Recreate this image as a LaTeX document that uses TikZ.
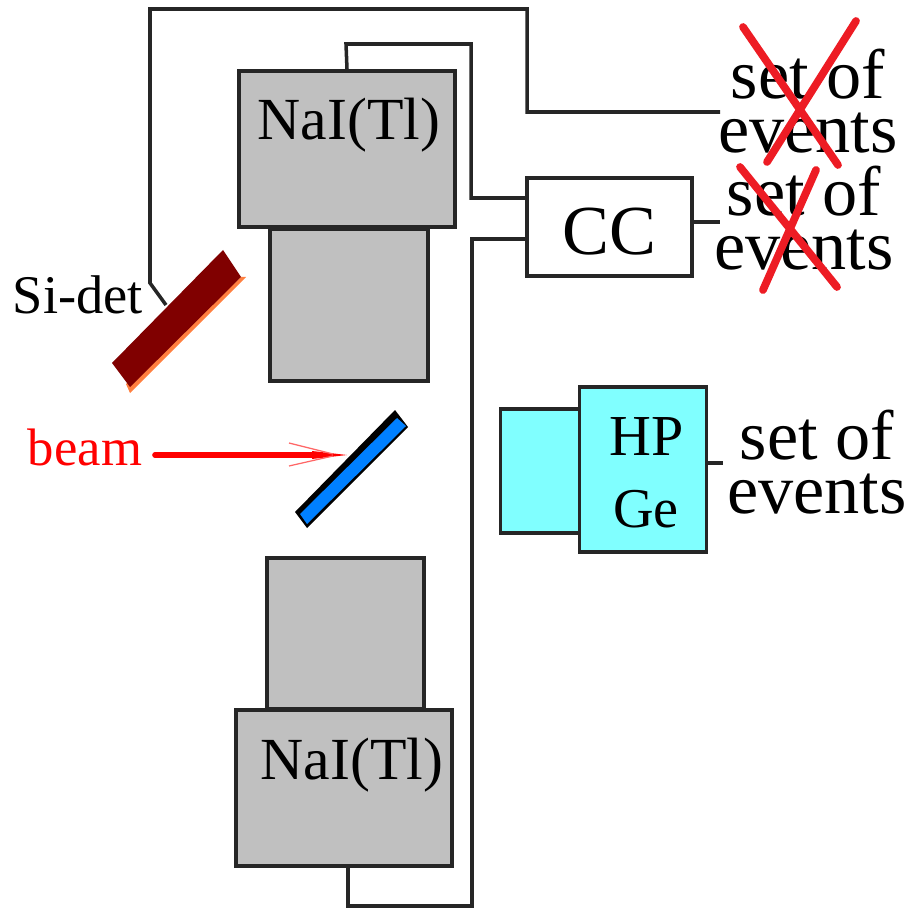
\documentclass[tikz,border=0pt]{standalone}
\usepackage{fontspec}
\setmainfont{Liberation Serif}
\definecolor{naigray}{RGB}{192, 192, 192}
\definecolor{gecyan}{RGB}{128, 255, 255}
\definecolor{sidark}{RGB}{128, 0, 0}
\definecolor{siedge}{RGB}{255, 128, 64}
\definecolor{foilblue}{RGB}{0, 128, 255}
\definecolor{crossred}{RGB}{237, 28, 36}
\definecolor{beamred}{RGB}{255, 0, 0}
\usetikzlibrary{arrows.meta, positioning, calc}

\begin{document}
\begin{tikzpicture}[x=0.02cm, y=-0.02cm,
    wire/.style={draw=black!85, line width=2pt},
    graybox/.style={draw=black!85, fill=naigray, line width=2pt, inner sep=0pt},
    cyanbox/.style={draw=black!85, fill=gecyan, line width=2pt, inner sep=0pt},
    crossline/.style={draw=crossred, line width=4.4pt, line cap=round},
    events/.style={align=center, inner sep=0pt, font=\fontsize{40}{31}\selectfont}]
  \useasboundingbox (0,0) rectangle (908,908);

  \node[graybox, minimum width=4.32cm, minimum height=3.12cm] (naitop) at (347,149) {};
  \node[graybox, minimum width=3.16cm, minimum height=3.04cm] (necktop) at (349,305) {};
  \node[graybox, minimum width=3.14cm, minimum height=3.02cm] (neckbot) at (345.5,633.5) {};
  \node[graybox, minimum width=4.32cm, minimum height=3.12cm] (naibot) at (344,788) {};
  \node[font=\fontsize{34}{34}\selectfont] (naitoplabel) at (349,125) {NaI(Tl)};
  \node[font=\fontsize{34}{34}\selectfont] (naibotlabel) at (352,765) {NaI(Tl)};

  \node[draw=black!85, fill=white, line width=2pt, inner sep=0pt,
        minimum width=3.3cm, minimum height=1.96cm] (cc) at (609.5,227) {};
  \node[font=\fontsize{40}{40}\selectfont] (cclabel) at (609,232) {CC};

  \node[cyanbox, minimum width=1.58cm, minimum height=2.48cm] (geback) at (540,471) {};
  \node[cyanbox, minimum width=2.54cm, minimum height=3.3cm] (gefront) at (643,469.5) {};
  \node[font=\fontsize{33}{33}\selectfont] (hplabel) at (647,437) {HP};
  \node[font=\fontsize{32}{32}\selectfont] (gelabel) at (646,509) {Ge};

  \coordinate (sia) at (223,250);
  \coordinate (sib) at (241,277);
  \coordinate (sic) at (130,387);
  \coordinate (sid) at (112,363);
  \fill[siedge] (sib) -- (246,277) -- (130,393) -- (126,384) -- cycle;
  \fill[sidark] (sia) -- (sib) -- (sic) -- (sid) -- cycle;
  \coordinate (sitap) at (166,305);
  \node[font=\fontsize{31}{31}\selectfont] (silabel) at (78,295) {Si-det};

  \fill[black] (395,410) -- (408,427) -- (307,528) -- (295,512) -- cycle;
  \fill[foilblue] (397,418) -- (406,426) -- (307,524) -- (300,514) -- cycle;
  \coordinate (foil) at (347,455);

  \node[text=beamred, font=\fontsize{30}{30}\selectfont] (beamlabel) at (85,447) {beam};
  \coordinate (beamstart) at (155,455);
  \draw[beamred, line width=3.2pt, line cap=round] (beamstart) -- (312,455);
  \fill[beamred] (312,451) -- (foil) -- (312,459) -- cycle;
  \draw[beamred!60, line width=0.7pt] (289,443) -- (333,454) (289,466) -- (333,456);

  \draw[wire] (sitap) -- (150,283) -- (150,9) -- (527,9) -- (527,112) -- (720,112);
  \draw[wire] (naitop.north) -- (346,44) -- (471,44) -- (471,198) -- (cc.west |- 0,198);
  \draw[wire] (naibot.south -| 348,0) -- (348,906) -- (472,906) -- (472,239) -- (cc.west |- 0,239);
  \draw[wire] (cc.east |- 0,222) -- (720,222);
  \draw[wire] (gefront.east |- 0,463) -- (723,463);

  \node[events] (eventsa) at (808,101) {set of\\events};
  \node[events] (eventsb) at (804,218) {set of\\events};
  \node[events] (eventsc) at (817,462) {set of\\events};

  \draw[crossline] (743,27) -- (838,165);
  \draw[crossline] (856,21) -- (767,162);
  \draw[crossline] (740,167) -- (837,287);
  \draw[crossline] (816,170) -- (763,290);
\end{tikzpicture}
\end{document}
